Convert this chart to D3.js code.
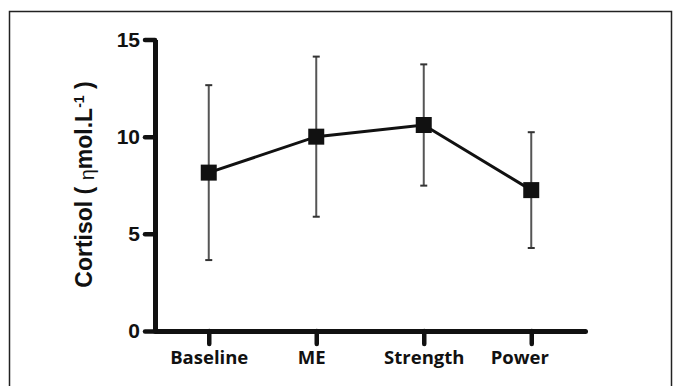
<!DOCTYPE html>
<html>
<head>
<meta charset="utf-8">
<script src="https://cdn.jsdelivr.net/npm/d3@7"></script>
<style>
  html, body { margin: 0; padding: 0; background: #fff; }
  svg { display: block; }
</style>
</head>
<body>
<div id="chart"></div>
<script>
// Cortisol across training phases (mean ± SD)
const CATEGORIES = ["Baseline", "ME", "Strength", "Power"];
const MEANS      = [8.15, 10.0, 10.6, 7.25];
const SD         = [4.5, 4.12, 3.12, 2.98];
const Y_TICKS    = [0, 5, 10, 15];

const W = 681, H = 386;
const AX = "#111";

const svg = d3.select("#chart").append("svg")
  .attr("width", W).attr("height", H);

svg.append("rect").attr("width", W).attr("height", H).attr("fill", "#fff");

// frame around the figure
svg.append("rect")
  .attr("x", 9.5).attr("y", 11.5)
  .attr("width", 662).attr("height", 420)
  .attr("fill", "none").attr("stroke", "#222").attr("stroke-width", 1.5);

const x = d3.scalePoint()
  .domain(CATEGORIES)
  .range([155, 585])
  .padding(0.5);

const y = d3.scaleLinear()
  .domain([0, 15])
  .range([331, 39.5]);

// Axis X
const gx = svg.append("g")
  .attr("transform", `translate(0,${y(0)})`)
  .call(d3.axisBottom(x).tickSize(13).tickSizeOuter(0).tickPadding(7));
gx.select(".domain")
  .attr("stroke", AX).attr("stroke-width", 5).attr("stroke-linecap", "round");
gx.selectAll(".tick line")
  .attr("stroke", AX).attr("stroke-width", 4.5).attr("stroke-linecap", "round");
gx.selectAll(".tick text")
  .attr("fill", "#111")
  .attr("font-family", "'Open Sans', sans-serif")
  .attr("font-weight", "bold")
  .attr("font-size", 18.5)
  .attr("dx", d => d === "Power" ? -12 : d === "ME" ? -5 : 0);

// Axis Y
const gy = svg.append("g")
  .attr("transform", `translate(${x.range()[0]},0)`)
  .call(d3.axisLeft(y).tickValues(Y_TICKS).tickSize(10).tickSizeOuter(0).tickPadding(5));
gy.select(".domain")
  .attr("stroke", AX).attr("stroke-width", 5);
gy.selectAll(".tick line")
  .attr("stroke", AX).attr("stroke-width", 4.5).attr("stroke-linecap", "round");
gy.selectAll(".tick text")
  .attr("fill", "#111")
  .attr("font-family", "'Liberation Sans', Arial, sans-serif")
  .attr("font-weight", "bold")
  .attr("font-size", 21);

// Label Y
const title = svg.append("text")
  .attr("transform", "translate(92,184.5) rotate(-90)")
  .attr("text-anchor", "middle")
  .attr("fill", "#111")
  .attr("font-family", "'Liberation Sans', Arial, sans-serif")
  .attr("font-weight", "bold")
  .attr("font-size", 23);
title.append("tspan").text("Cortisol ( ");
title.append("tspan").attr("font-weight", "normal").attr("font-size", 20).attr("dy", 2).text("η");
title.append("tspan").attr("dy", -2).text("mol.L");
title.append("tspan").attr("font-size", 14).attr("dy", -8).text("-1");
title.append("tspan").attr("dy", 8).text(" )");

const data = CATEGORIES.map((c, i) => ({ c, m: MEANS[i], sd: SD[i] }));

// Error bars
const eb = svg.append("g").attr("stroke", "#555");
eb.selectAll("line.v").data(data).join("line")
  .attr("class", "v")
  .attr("x1", d => x(d.c)).attr("x2", d => x(d.c))
  .attr("y1", d => y(d.m + d.sd)).attr("y2", d => y(d.m - d.sd))
  .attr("stroke-width", 2);
eb.selectAll("line.cap").data(data.flatMap(d => [
    { c: d.c, v: d.m + d.sd }, { c: d.c, v: d.m - d.sd }
  ])).join("line")
  .attr("class", "cap")
  .attr("x1", d => x(d.c) - 3.5).attr("x2", d => x(d.c) + 3.5)
  .attr("y1", d => y(d.v)).attr("y2", d => y(d.v))
  .attr("stroke", "#333")
  .attr("stroke-width", 2);

// Mean line
svg.append("path")
  .datum(data)
  .attr("fill", "none")
  .attr("stroke", "#111")
  .attr("stroke-width", 3)
  .attr("d", d3.line().x(d => x(d.c)).y(d => y(d.m)));

// Markers
const S = 16;
svg.append("g").selectAll("rect").data(data).join("rect")
  .attr("x", d => x(d.c) - S / 2)
  .attr("y", d => y(d.m) - S / 2)
  .attr("width", S).attr("height", S)
  .attr("fill", "#111");
</script>
</body>
</html>
